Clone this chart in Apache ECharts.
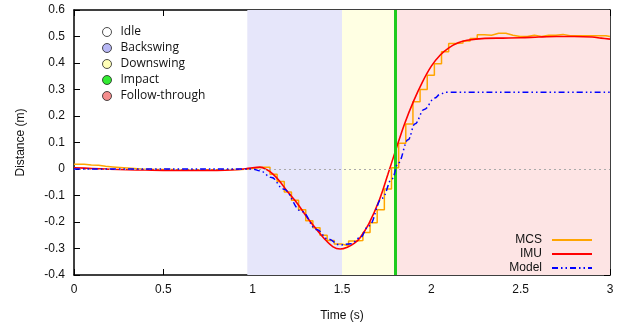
<!DOCTYPE html>
<html>
<head>
<meta charset="utf-8">
<script src="https://cdn.jsdelivr.net/npm/echarts@6/dist/echarts.min.js"></script>
<style>
    html, body { margin: 0; padding: 0; background: #fff; }
    #main { width: 633px; height: 327px; }
</style>
</head>
<body>
<div id="main"></div>
<script>
// swing phases
var phaseNames = ['Idle', 'Backswing', 'Downswing', 'Impact', 'Follow-through'];
var phaseStart = [0, 0.97, 1.5, 1.8, 1.8];
var phaseEnd = [0.97, 1.5, 1.8, 1.8, 3];

// MCS: 25 Hz samples, first one at t = 0.017 s
var mcsStart = 0.017;
var mcsStep = 0.04;
var mcsValue = [
    0.018, 0.015, 0.014, 0.010, 0.008, 0.006, 0.004, 0.002, 0.000, -0.001,
    -0.002, -0.002, -0.002, -0.003, -0.003, -0.003, -0.003, -0.003, -0.003, -0.003,
    -0.003, -0.002, -0.002, 0.000, 0.004, 0.007, 0.007, -0.020, -0.047, -0.087,
    -0.118, -0.154, -0.195, -0.222, -0.250, -0.270, -0.283, -0.290, -0.272, -0.270,
    -0.240, -0.203, -0.154, -0.075, 0.005, 0.097, 0.170, 0.254, 0.300, 0.354,
    0.397, 0.442, 0.474, 0.475, 0.483, 0.492, 0.507, 0.505, 0.512, 0.512,
    0.505, 0.500, 0.500, 0.505, 0.500, 0.505, 0.505, 0.508, 0.503, 0.503,
    0.503, 0.503, 0.503, 0.503, 0.500
];

// IMU
var imuTime = [0, 0.1, 0.2, 0.3, 0.4, 0.5, 0.6, 0.7, 0.8, 0.9, 0.95, 1.0, 1.04, 1.08, 1.115,
    1.15, 1.19, 1.25, 1.3, 1.35, 1.4, 1.45, 1.49, 1.53, 1.57, 1.6, 1.65, 1.71, 1.757,
    1.8, 1.85, 1.9, 1.95, 2.0, 2.05, 2.1, 2.15, 2.2, 2.3, 2.4, 2.5, 2.6, 2.7, 2.8,
    2.9, 2.95, 3.0];
var imuValue = [0.005, 0.002, -0.001, -0.003, -0.004, -0.005, -0.005, -0.005, -0.005, -0.003, 0.0, 0.005, 0.007, -0.003, -0.02,
    -0.045, -0.081, -0.13, -0.178, -0.222, -0.262, -0.294, -0.302, -0.295, -0.28, -0.26, -0.207, -0.115, -0.02,
    0.07, 0.17, 0.255, 0.328, 0.388, 0.43, 0.458, 0.476, 0.486, 0.493, 0.494, 0.495, 0.498, 0.5, 0.5,
    0.498, 0.494, 0.49];

// Model
var modelTime = [0, 0.5, 0.95, 1.0, 1.04, 1.106, 1.171, 1.274, 1.358, 1.423, 1.489, 1.55, 1.6,
    1.65, 1.725, 1.78, 1.815, 1.87, 1.908, 1.96, 2.02, 2.05, 2.085, 2.5, 3.0];
var modelValue = [0, 0, 0, 0, -0.007, -0.032, -0.075, -0.16, -0.228, -0.265, -0.287, -0.282, -0.26,
    -0.215, -0.11, -0.037, 0.023, 0.11, 0.17, 0.225, 0.268, 0.283, 0.29, 0.29, 0.29];

var xTicks = [0, 3, 0.5];          // min, max, step
var yTicks = [-0.4, 0.6, 0.1];

(function () {
    var myChart = echarts.init(document.getElementById('main'));

    var phaseColor = ['#ffffff', '#a5a5f2', '#ffffa5', '#00e600', '#f27272'];
    var phaseShade = [null, '#e6e6fa', '#ffffe3', null, '#fde4e4'];

    function pairs(t, v) {
        var out = [];
        for (var i = 0; i < t.length; i++) out.push([t[i], v[i]]);
        return out;
    }

    var mcsData = [[0, mcsValue[0]]];
    for (var i = 0; i < mcsValue.length; i++) {
        mcsData.push([+(mcsStart + mcsStep * i).toFixed(3), mcsValue[i]]);
    }
    mcsData.push([3, mcsValue[mcsValue.length - 1]]);

    var font = 'Liberation Sans, Arial, sans-serif';
    var legendFont = 'Open Sans, sans-serif';

    var series = [];
    phaseNames.forEach(function (name, k) {
        var s = {
            name: name,
            type: 'scatter',
            data: [],
            z: 1,
            silent: true,
            itemStyle: { color: phaseColor[k], borderColor: '#222', borderWidth: 1 }
        };
        if (phaseShade[k]) {
            s.markArea = {
                silent: true,
                itemStyle: { color: phaseShade[k] },
                data: [[{ xAxis: phaseStart[k] }, { xAxis: phaseEnd[k] }]]
            };
        }
        if (name === 'Impact') {
            s.z = 6;
            s.markLine = {
                silent: true,
                symbol: 'none',
                label: { show: false },
                lineStyle: { color: '#1ecb1e', width: 3, type: 'solid' },
                data: [{ xAxis: phaseStart[k] }]
            };
        }
        if (name === 'Idle') {
            s.markLine = {
                silent: true,
                symbol: 'none',
                label: { show: false },
                lineStyle: { color: '#aaaaaa', width: 1, type: [2, 3] },
                data: [{ yAxis: 0 }]
            };
        }
        series.push(s);
    });

    series.push({
        name: 'MCS',
        type: 'line',
        step: 'end',
        symbol: 'none',
        z: 3,
        color: '#ffa500',
        lineStyle: { color: '#ffa500', width: 1.5 },
        data: mcsData
    });
    series.push({
        name: 'IMU',
        type: 'line',
        smooth: 0.35,
        symbol: 'none',
        z: 4,
        color: '#ff0000',
        lineStyle: { color: '#ff0000', width: 1.6 },
        data: pairs(imuTime, imuValue)
    });
    series.push({
        name: 'Model',
        type: 'line',
        smooth: 0.4,
        smoothMonotone: 'x',
        symbol: 'none',
        z: 5,
        color: '#0000ff',
        lineStyle: { color: '#0000ff', width: 1.5, type: [6, 3, 1.5, 3, 1.5, 3] },
        data: pairs(modelTime, modelValue)
    });

    var tickStyle = { show: true, inside: true, length: 6, lineStyle: { color: '#000', width: 1 } };
    var lineStyle = { show: true, onZero: false, lineStyle: { color: '#000', width: 1.5 } };

    var option = {
        backgroundColor: '#fff',
        animation: false,
        grid: { left: 74, right: 23, top: 10, bottom: 45 },
        legend: [
            {
                orient: 'vertical',
                left: 97,
                top: 21,
                itemWidth: 9,
                itemHeight: 9,
                itemGap: 4,
                icon: 'circle',
                selectedMode: false,
                textStyle: { fontFamily: legendFont, fontSize: 12, color: '#111', padding: [0, 0, 0, 4] },
                data: phaseNames.map(function (n, k) {
                    return { name: n, itemStyle: { color: phaseColor[k], borderColor: '#222', borderWidth: 1 } };
                })
            },
            {
                orient: 'vertical',
                right: 35,
                top: 229,
                align: 'right',
                itemWidth: 40,
                itemHeight: 10,
                itemGap: 2,
                selectedMode: false,
                itemStyle: { opacity: 0 },
                textStyle: { fontFamily: font, fontSize: 12, color: '#111', padding: [0, 5, 0, 0] },
                data: ['MCS', 'IMU', 'Model']
            }
        ],
        xAxis: [
            {
                type: 'value',
                min: xTicks[0], max: xTicks[1], interval: xTicks[2],
                name: 'Time (s)',
                nameLocation: 'middle',
                nameGap: 35,
                nameTextStyle: { fontFamily: font, fontSize: 12, color: '#111' },
                axisLine: lineStyle,
                axisTick: tickStyle,
                axisLabel: { fontFamily: font, fontSize: 12, color: '#111', margin: 9 },
                splitLine: { show: false }
            },
            {
                type: 'value',
                position: 'top',
                min: xTicks[0], max: xTicks[1], interval: xTicks[2],
                axisLine: lineStyle,
                axisTick: tickStyle,
                axisLabel: { show: false },
                splitLine: { show: false }
            }
        ],
        yAxis: [
            {
                type: 'value',
                min: yTicks[0], max: yTicks[1], interval: yTicks[2],
                name: 'Distance (m)',
                nameLocation: 'middle',
                nameGap: 47,
                nameTextStyle: { fontFamily: font, fontSize: 12, color: '#111' },
                axisLine: lineStyle,
                axisTick: tickStyle,
                axisLabel: { fontFamily: font, fontSize: 12, color: '#111', margin: 9 },
                splitLine: { show: false }
            },
            {
                type: 'value',
                position: 'right',
                min: yTicks[0], max: yTicks[1], interval: yTicks[2],
                axisLine: lineStyle,
                axisTick: tickStyle,
                axisLabel: { show: false },
                splitLine: { show: false }
            }
        ],
        series: series
    };

    myChart.setOption(option);
})();
</script>
</body>
</html>
